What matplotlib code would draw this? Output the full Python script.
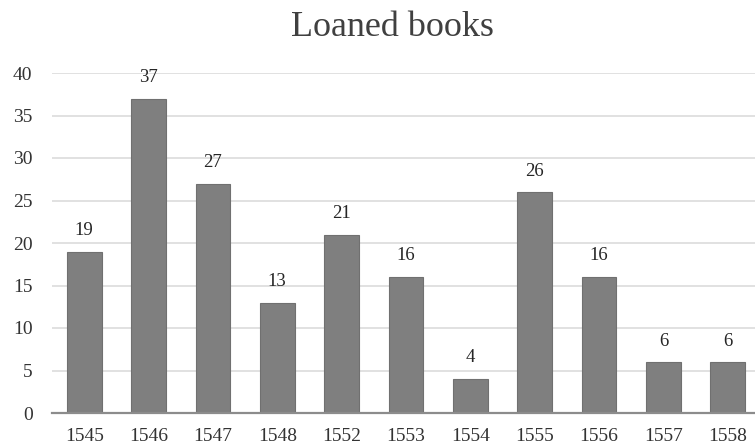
import matplotlib
matplotlib.use('Agg')
import matplotlib.pyplot as plt
import numpy as np

plt.rcParams['font.family'] = 'Liberation Serif'

years = ['1545', '1546', '1547', '1548', '1552', '1553', '1554', '1555', '1556', '1557', '1558']
loans = [19, 37, 27, 13, 21, 16, 4, 26, 16, 6, 6]

W, H = 755, 446
fig = plt.figure(figsize=(W / 100, H / 100), dpi=100)
# plot area runs a little past the right edge of the figure
ax = fig.add_axes([52 / W, 33 / H, 708 / W, 340 / H])

x = np.arange(len(years))
ax.bar(x, loans, width=0.54, color='#7f7f7f', edgecolor='#707070', linewidth=0.8, zorder=3)

for xi, v in zip(x, loans):
    ax.annotate(str(v), (xi, v), xytext=(0, 9), textcoords='offset points',
                ha='center', va='bottom', fontsize=13.5, color='#262626')

ax.set_xlim(-0.5, len(years) - 0.5)
ax.set_ylim(0, 40)
ax.set_yticks(range(0, 41, 5))
ax.set_xticks(x)
ax.set_xticklabels(years)
ax.tick_params(axis='both', length=0, labelsize=14, labelcolor='#333333')
ax.tick_params(axis='x', pad=11)
ax.tick_params(axis='y', pad=14)

ax.grid(axis='y', color='#dcdcdc', linewidth=1.2, zorder=0)
for side in ['top', 'right', 'left']:
    ax.spines[side].set_visible(False)
ax.spines['bottom'].set_color('#8c8c8c')
ax.spines['bottom'].set_linewidth(1.6)
ax.spines['bottom'].set_zorder(4)

fig.text(392 / W, 1 - 28 / H, 'Loaned books', ha='center', va='center',
         fontsize=26, color='#404040')

fig.savefig('out.png', dpi=100)
